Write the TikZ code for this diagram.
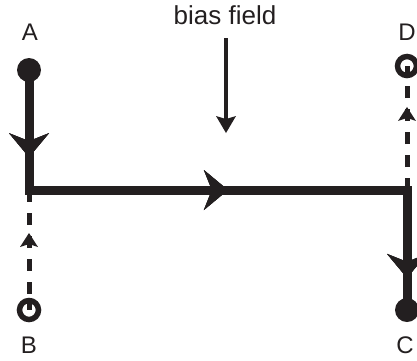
\documentclass[tikz,border=0pt]{standalone}
\usepackage{fontspec}
\setmainfont{Liberation Sans}
\usetikzlibrary{arrows.meta,decorations.markings}
\definecolor{ink}{RGB}{35,31,32}
\begin{document}
\begin{tikzpicture}[x=1pt,y=-1pt,
  wire/.style={draw=ink, line width=9pt, line join=miter, line cap=butt},
  guide/.style={draw=ink, line width=5pt, line cap=butt, dash pattern=on 12pt off 11pt},
  tick/.style={draw=ink, line width=5pt, line cap=butt},
  flowat/.style={postaction={decorate}, decoration={markings,
      mark=at position #1 with {\arrow[ink]{Stealth[length=24pt,width=40pt,inset=8pt,line width=0pt]}}}},
  backat/.style={postaction={decorate}, decoration={markings,
      mark=at position #1 with {\arrowreversed[ink]{Stealth[length=14pt,width=18pt,inset=3pt,line width=0pt]}}}},
  fwdat/.style={postaction={decorate}, decoration={markings,
      mark=at position #1 with {\arrow[ink]{Stealth[length=14pt,width=18pt,inset=3pt,line width=0pt]}}}},
  dot/.style={circle, fill=ink, minimum size=24pt, inner sep=0pt},
  ring/.style={circle, draw=ink, line width=5.5pt, minimum size=19pt, inner sep=0pt},
  label/.style={text=ink, font=\fontsize{24}{28}\selectfont, anchor=base, inner sep=0pt},
]
\useasboundingbox (0,0) rectangle (417,360);

% corners of the main path
\coordinate (c1) at (29,190);
\coordinate (c2) at (407,190);

% end markers
\node[dot]  (A) at (29,70)  {};
\node[dot]  (C) at (407,310) {};
\node[ring] (B) at (29,310) {};
\node[ring] (D) at (407,66) {};

% short stems inside the open markers
\path[tick] (B.north) -- (B.center);
\path[tick] (D.south) -- (D.center);

% dashed feeds with their direction arrows
\path[guide, backat=0.399] (c1) -- (B.north);
\path[guide, fwdat=0.743] (c2) -- (D.south);

% main solid path A -> C
\path[wire, flowat=0.141, flowat=0.516, flowat=0.948]
  (A.center) -- (c1) -- (c2) -- (C.center);

% labels
\node[label] (lA) at (30,40)  {A};
\node[label] (lB) at (29,353) {B};
\node[label] (lC) at (405,353) {C};
\node[label] (lD) at (407,40) {D};

% bias field
\node[label, font=\fontsize{26}{30}\selectfont] (bias) at (225,24) {bias field};
\coordinate (bt) at (226,38);
\coordinate (bh) at (226,133);
\draw[ink, line width=4.5pt, -{Stealth[length=17pt,width=20pt,inset=3pt,line width=0pt]}] (bt) -- (bh);
\end{tikzpicture}
\end{document}
